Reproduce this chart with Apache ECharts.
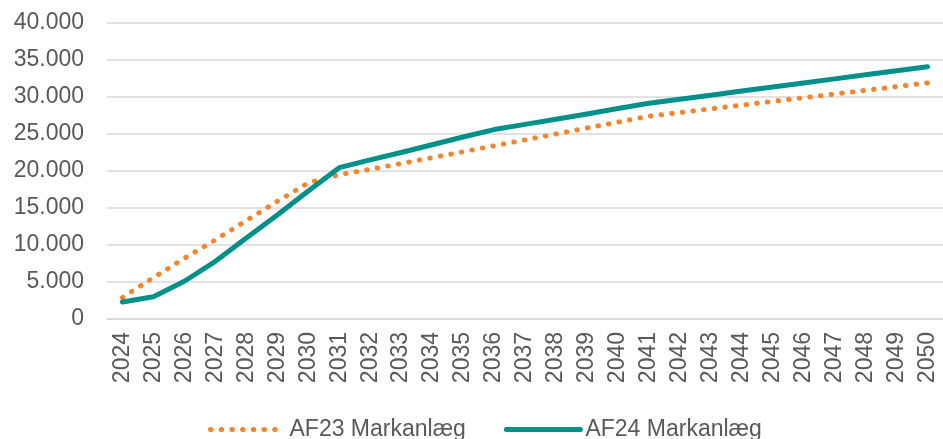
<!DOCTYPE html>
<html>
<head>
<meta charset="utf-8">
<script src="https://cdn.jsdelivr.net/npm/echarts@6/dist/echarts.min.js"></script>
<style>
  html, body { margin: 0; padding: 0; background: #fff; }
  #chart { width: 943px; height: 439px; }
</style>
</head>
<body>
<div id="chart"></div>
<script>
const years = [
  "2024", "2025", "2026", "2027", "2028", "2029", "2030", "2031", "2032",
  "2033", "2034", "2035", "2036", "2037", "2038", "2039", "2040", "2041",
  "2042", "2043", "2044", "2045", "2046", "2047", "2048", "2049", "2050",
];

const af23 = [
  2900, 5600, 8200, 10700, 13300, 15900, 18400, 19500, 20230,
  21000, 21800, 22600, 23400, 24200, 25000, 25800, 26600, 27400,
  27900, 28400, 28900, 29400, 29900, 30400, 30900, 31400, 31900,
];

const af24 = [
  2300, 3000, 5100, 7800, 10950, 14050, 17300, 20450, 21500,
  22500, 23550, 24600, 25600, 26300, 27000, 27700, 28450, 29150,
  29700, 30250, 30800, 31350, 31900, 32450, 33000, 33550, 34100,
];

const seriesNames = ["AF23 Markanlæg", "AF24 Markanlæg"];

const textColor = "#595959";
const gridColor = "#d9d9d9";
const orange = "#f4852f";
const teal = "#00908a";
const fontFamily = "Liberation Sans, Arial, sans-serif";

const dottedStyle = { color: orange, width: 5, type: [0.5, 10.2], cap: "round" };
const solidStyle = { color: teal, width: 5, type: "solid", cap: "round", join: "round" };

function formatThousands(value) {
  return String(value).replace(/\B(?=(\d{3})+(?!\d))/g, ".");
}

const chart = echarts.init(document.getElementById("chart"));

chart.setOption({
  animation: false,
  backgroundColor: "#fff",
  textStyle: { fontFamily },
  legend: {
    data: [
      { name: seriesNames[0], itemStyle: { opacity: 0 }, lineStyle: dottedStyle },
      { name: seriesNames[1], itemStyle: { opacity: 0 }, lineStyle: solidStyle },
    ],
    left: 203,
    top: 413,
    itemWidth: 74,
    itemHeight: 10,
    itemGap: 38,
    textStyle: { color: textColor, fontSize: 23, fontFamily },
  },
  grid: {
    left: 107,
    right: 0,
    top: 23,
    bottom: 120,
    containLabel: false,
    outerBoundsMode: "none",
  },
  xAxis: {
    type: "category",
    data: years,
    boundaryGap: true,
    axisTick: { show: false },
    axisLine: { show: true, lineStyle: { color: gridColor, width: 1.5 } },
    axisLabel: {
      color: textColor,
      fontSize: 23,
      rotate: 90,
      margin: 13,
      interval: 0,
      fontFamily,
    },
  },
  yAxis: {
    type: "value",
    min: 0,
    max: 40000,
    interval: 5000,
    axisLine: { show: false },
    axisTick: { show: false },
    axisLabel: {
      color: textColor,
      fontSize: 23,
      margin: 23,
      fontFamily,
      formatter: formatThousands,
    },
    splitLine: { lineStyle: { color: gridColor, width: 1.5 } },
  },
  series: [
    {
      name: seriesNames[0],
      type: "line",
      symbol: "none",
      data: af23,
      itemStyle: { color: orange },
      lineStyle: dottedStyle,
      z: 2,
    },
    {
      name: seriesNames[1],
      type: "line",
      symbol: "none",
      data: af24,
      itemStyle: { color: teal },
      lineStyle: solidStyle,
      z: 3,
    },
  ],
});
</script>
</body>
</html>
